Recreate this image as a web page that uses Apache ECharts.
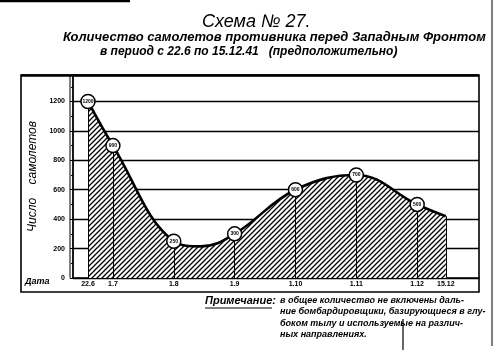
<!DOCTYPE html>
<html><head><meta charset="utf-8">
<script src="https://cdn.jsdelivr.net/npm/echarts@6/dist/echarts.min.js"></script>
<style>html,body{margin:0;padding:0;background:#fff}#c{width:501px;height:350px}</style>
</head><body><div id="c"></div>
<script>
// ---- data ----
const dateLabels = ['22.6', '1.7', '1.8', '1.9', '1.10', '1.11', '1.12', '15.12'];
const datePos    = [-0.41, 0, 1, 2, 3, 4, 5, 5.47];      // months from 1 July
const planes     = [1200, 900, 250, 300, 600, 700, 500, 420];
const markedIdx  = [0, 1, 2, 3, 4, 5, 6];                 // dates with circles
const extraPos   = [1.45];                                // curve reading (mid-August dip)
const extraVal   = [215];
const yTickVals  = [0, 200, 400, 600, 800, 1000, 1200];

const titleText = 'Схема № 27.';
const subLine1 = 'Количество самолетов противника перед Западным Фронтом';
const subLine2 = 'в период с 22.6 по 15.12.41   (предположительно)';
const yName = 'Число    самолетов';
const xName = 'Дата';
const noteHead = 'Примечание:';
const noteLines = [
  'в общее количество не включены даль-',
  'ние бомбардировщики, базирующиеся в глу-',
  'боком тылу и используемые на различ-',
  'ных направлениях.'
];

// ---- build ----
const curve = datePos.map((x, i) => [x, planes[i]])
  .concat(extraPos.map((x, i) => [x, extraVal[i]]))
  .sort((a, b) => a[0] - b[0]);
const markers = markedIdx.map(i => [datePos[i], planes[i]]);
const drops = datePos.map((x, i) => [{coord: [x, 0]}, {coord: [x, planes[i]]}]);

function hatch() {
  const p = 5, c = document.createElement('canvas');
  c.width = p; c.height = p;
  const g = c.getContext('2d');
  g.fillStyle = '#fff'; g.fillRect(0, 0, p, p);
  g.strokeStyle = '#000'; g.lineWidth = 1.3;
  g.beginPath();
  g.moveTo(-1, p + 1); g.lineTo(p + 1, -1);
  g.moveTo(-1, 1); g.lineTo(1, -1);
  g.moveTo(p - 1, p + 1); g.lineTo(p + 1, p - 1);
  g.stroke();
  return c;
}

const F = '"Liberation Sans", Arial, sans-serif';
const chart = echarts.init(document.getElementById('c'), null, {renderer: 'canvas'});
const gfx = [
  {type: 'text', left: 202, top: 13, style: {text: titleText, font: 'italic 18px ' + F, fill: '#000'}},
  {type: 'text', left: 63, top: 31, style: {text: subLine1, font: 'italic bold 13px ' + F, fill: '#000'}},
  {type: 'text', left: 100, top: 46, style: {text: subLine2, font: 'italic bold 12px ' + F, fill: '#000'}},
  {type: 'rect', shape: {x: 21, y: 75, width: 458, height: 217}, style: {fill: null, stroke: '#000', lineWidth: 1.6}, z: 10},
  {type: 'line', shape: {x1: 21, y1: 75.5, x2: 479, y2: 75.5}, style: {stroke: '#000', lineWidth: 2.5}, z: 10},
  {type: 'line', shape: {x1: 70, y1: 75, x2: 70, y2: 278}, style: {stroke: '#000', lineWidth: 1}, z: 10},
  {type: 'text', left: 25, top: 277, style: {text: xName, font: 'italic bold 9px ' + F, fill: '#000'}},
  {type: 'text', left: 205, top: 295, style: {text: noteHead, font: 'italic bold 11px ' + F, fill: '#000'}},
  {type: 'line', shape: {x1: 205, y1: 308, x2: 272, y2: 308}, style: {stroke: '#000', lineWidth: 1.2}},
  {type: 'line', shape: {x1: 0, y1: 1, x2: 130, y2: 1}, style: {stroke: '#000', lineWidth: 2.5}},
  {type: 'line', shape: {x1: 492, y1: 0, x2: 492, y2: 346}, style: {stroke: '#000', lineWidth: 1}},
  {type: 'line', shape: {x1: 403, y1: 319, x2: 403, y2: 350}, style: {stroke: '#000', lineWidth: 1.2}}
];
noteLines.forEach((t, i) => gfx.push({type: 'text', left: 280, top: 296 + i * 11.3,
  style: {text: t, font: 'italic bold 9px ' + F, fill: '#000'}}));

chart.setOption({
  animation: false,
  backgroundColor: '#fff',
  grid: {left: 73, right: 22, top: 75, bottom: 72},
  xAxis: {
    type: 'value', min: -0.656, max: 6.016,
    axisLine: {show: true, onZero: false, lineStyle: {color: '#000', width: 1.5}},
    axisTick: {show: false},
    splitLine: {show: false},
    axisLabel: {
      customValues: datePos, margin: 3,
      formatter: v => { const i = datePos.findIndex(p => Math.abs(p - v) < 1e-6); return i >= 0 ? dateLabels[i] : ''; },
      fontFamily: F, fontSize: 7, fontWeight: 'bold', color: '#000'
    }
  },
  yAxis: {
    type: 'value', min: 0, max: 1380, interval: 200,
    name: yName, nameLocation: 'middle', nameRotate: 90, nameGap: 33,
    nameTextStyle: {fontFamily: F, fontStyle: 'italic', fontSize: 12, color: '#000'},
    axisLine: {show: true, onZero: false, lineStyle: {color: '#000', width: 1.8}},
    axisTick: {show: true, length: 3, lineStyle: {color: '#000'}},
    minorTick: {show: true, splitNumber: 2, length: 2, lineStyle: {color: '#000'}},
    splitLine: {show: true, lineStyle: {color: '#000', width: 1.3}},
    axisLabel: {
      margin: 8, fontFamily: F, fontSize: 7, fontWeight: 'bold', color: '#000',
      formatter: v => yTickVals.includes(v) ? String(v) : ''
    }
  },
  series: [
    {
      type: 'line', data: curve, smooth: 0.4, symbol: 'none',
      lineStyle: {color: '#000', width: 2.6},
      areaStyle: {color: {image: hatch(), repeat: 'repeat'}, opacity: 1},
      markLine: {silent: true, symbol: 'none', label: {show: false},
        lineStyle: {color: '#000', width: 1, type: 'solid'}, data: drops},
      z: 2
    },
    {
      type: 'scatter', data: markers, symbol: 'circle', symbolSize: 14,
      itemStyle: {color: '#fff', borderColor: '#000', borderWidth: 1.5, opacity: 1},
      label: {show: true, position: 'inside', formatter: p => p.value[1],
        fontFamily: F, fontSize: 5, fontWeight: 'bold', color: '#000'},
      z: 5
    }
  ],
  graphic: gfx
});
</script>
</body></html>
